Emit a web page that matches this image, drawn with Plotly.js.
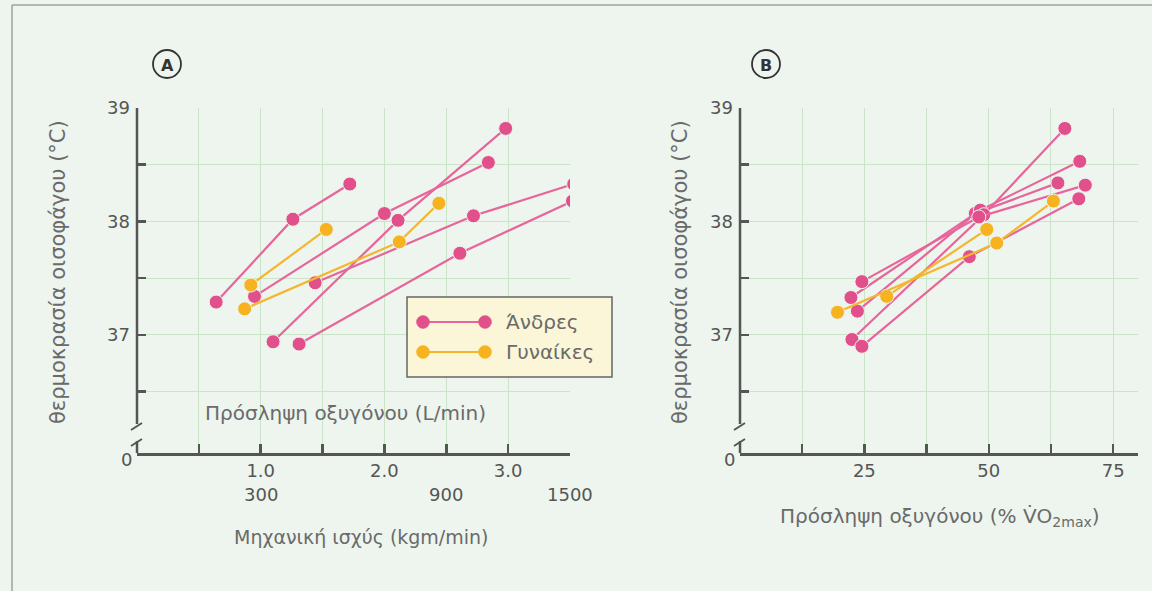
<!DOCTYPE html>
<html>
<head>
<meta charset="utf-8">
<script src="https://cdn.plot.ly/plotly-3.0.1.min.js"></script>
<style>
html,body{margin:0;padding:0;background:#edf5ee;}
#chart{width:1152px;height:591px;}
</style>
</head>
<body>
<div id="chart"></div>
<script>
// ---------- DATA ----------
// Panel A: oxygen uptake (L/min) vs oesophageal temperature (°C)
const menA_x = [[0.64,1.26,1.72],[0.95,2.00,2.84],[1.10,2.11,2.98],[1.44,2.72,3.53],[1.31,2.61,3.52]];
const menA_y = [[37.29,38.02,38.33],[37.34,38.07,38.52],[36.94,38.01,38.82],[37.46,38.05,38.33],[36.92,37.72,38.18]];
const womenA_x = [[0.92,1.53],[0.87,2.12,2.44]];
const womenA_y = [[37.44,37.93],[37.23,37.82,38.16]];
// Panel B: oxygen uptake (% VO2max) vs oesophageal temperature (°C)
const menB_x = [[23.6,47.3,63.9],[22.3,48.3,68.3],[22.5,49.0,65.3],[24.5,48.0,69.4],[24.5,46.1,68.1]];
const menB_y = [[37.21,38.07,38.34],[37.33,38.10,38.53],[36.96,38.06,38.82],[37.47,38.04,38.32],[36.90,37.69,38.20]];
const womenB_x = [[29.5,49.6],[19.6,51.6,63.0]];
const womenB_y = [[37.34,37.93],[37.20,37.81,38.18]];
// Tick labels
const xTickValsA = [0.5,1.0,1.5,2.0,2.5,3.0,3.5];
const xTickTextA = ['','1.0','','2.0','','3.0',''];
const powerLabelPos = [1.0,2.5,3.5];
const powerLabels = ['300','900','1500'];
const xTickValsB = [12.5,25,37.5,50,62.5,75];
const xTickTextB = ['','25','','50','','75'];
const yTickVals = [36.5,37,37.5,38,38.5,39];
const yTickText = ['','37','','38','','39'];
const legendNames = ['Άνδρες','Γυναίκες'];

// ---------- STYLE ----------
const W = 1152, H = 591;
const X = p => p / W;
const Y = p => 1 - p / H;
const FONT = 'DejaVu Sans, Noto Sans, sans-serif';
const TXT = '#6a6a6a';
const AX = '#555555';
const BG = '#edf5ee';
const GRID = '#c9e4c7';
const PINK = '#e2508c', PINKL = '#e8659b';
const YEL = '#f6b21f', YELL = '#f4b62c';

function series(xs, ys, col, lcol, xa, ya){
  return {
    type:'scatter', mode:'lines+markers', x:xs, y:ys, xaxis:xa, yaxis:ya,
    line:{color:lcol, width:2.2},
    marker:{size:14, color:col, line:{color:BG, width:1}},
    showlegend:false, hoverinfo:'skip'
  };
}
const traces = [];
menA_x.forEach((xs,i)=>traces.push(series(xs, menA_y[i], PINK, PINKL, 'x', 'y')));
womenA_x.forEach((xs,i)=>traces.push(series(xs, womenA_y[i], YEL, YELL, 'x', 'y')));
menB_x.forEach((xs,i)=>traces.push(series(xs, menB_y[i], PINK, PINKL, 'x2', 'y2')));
womenB_x.forEach((xs,i)=>traces.push(series(xs, womenB_y[i], YEL, YELL, 'x2', 'y2')));

const yDom = [Y(453), Y(108)];
const commonX = {
  ticks:'inside', ticklen:9, tickwidth:2.5, tickcolor:AX,
  showline:true, linecolor:AX, linewidth:2.5,
  showgrid:true, gridcolor:GRID, gridwidth:1, zeroline:false,
  tickfont:{family:FONT, size:18, color:AX}, fixedrange:true
};
const commonY = {
  range:[35.96,39], tickvals:yTickVals, ticktext:yTickText,
  ticks:'inside', ticklen:9, tickwidth:2.5, tickcolor:AX,
  showline:false, showgrid:true, gridcolor:GRID, gridwidth:1, zeroline:false,
  ticklabelstandoff:6,
  tickfont:{family:FONT, size:18, color:AX}, fixedrange:true, domain:yDom
};

const shapes = [];
const ann = [];
function line(x0,y0,x1,y1,col,w){ shapes.push({type:'line',xref:'paper',yref:'paper',x0:X(x0),y0:Y(y0),x1:X(x1),y1:Y(y1),line:{color:col,width:w}}); }
function circle(cx,cy,r,fill,lc,lw){ shapes.push({type:'circle',xref:'paper',yref:'paper',x0:X(cx-r),x1:X(cx+r),y0:Y(cy+r),y1:Y(cy-r),fillcolor:fill,line:{color:lc,width:lw}}); }
function text(t,x,y,size,opts){ ann.push(Object.assign({text:t,xref:'paper',yref:'paper',x:X(x),y:Y(y),showarrow:false,xanchor:'center',yanchor:'middle',font:{family:FONT,size:size,color:TXT}},opts||{})); }

// broken y-axes
[137,740].forEach(ax=>{
  line(ax,108,ax,424,AX,2.5);
  line(ax,441,ax,453,AX,2.5);
  line(ax-6,430,ax+5,423,AX,2);
  line(ax-6,446,ax+5,439,AX,2);
  text('0', ax-11, 459, 18, {font:{family:FONT,size:18,color:AX}});
});

// panel letters
circle(167,64,14,'rgba(0,0,0,0)','#333',1.8);
text('<b>A</b>',167,65,16,{font:{family:FONT,size:16,color:'#333'}});
circle(766,64,14,'rgba(0,0,0,0)','#333',1.8);
text('<b>B</b>',766,65,16,{font:{family:FONT,size:16,color:'#333'}});

// power labels (second row under A)
powerLabels.forEach((t,i)=>ann.push({text:t,xref:'x',yref:'paper',x:powerLabelPos[i],y:Y(494),showarrow:false,xanchor:'center',yanchor:'middle',font:{family:FONT,size:18,color:AX}}));

// axis titles
text('Πρόσληψη οξυγόνου (L/min)',345,413,20);
text('Μηχανική ισχύς (kgm/min)',361,537,19);
text('θερμοκρασία οισοφάγου (°C)',58,272,21,{textangle:-90});
text('θερμοκρασία οισοφάγου (°C)',680,272,21,{textangle:-90});
text('Πρόσληψη οξυγόνου (% V̇O<sub>2max</sub>)',940,517,20);

// legend box
shapes.push({type:'rect',xref:'paper',yref:'paper',x0:X(407),x1:X(612),y0:Y(377),y1:Y(297),fillcolor:'#fbf6d7',line:{color:'#666',width:1.5}});
[[322,PINK,PINKL],[352,YEL,YELL]].forEach((r,i)=>{
  line(423,r[0],485,r[0],r[2],2.2);
  circle(423,r[0],6.5,r[1],r[1],0.5);
  circle(485,r[0],6.5,r[1],r[1],0.5);
  text(legendNames[i],504,r[0],20,{xanchor:'left'});
});

// frame
line(12,5,1152,5,'#9aa59c',1.5);
line(12,5,12,591,'#9aa59c',1.5);

const layout = {
  width:W, height:H, margin:{l:0,r:0,t:0,b:0},
  paper_bgcolor:BG, plot_bgcolor:BG,
  showlegend:false,
  xaxis:Object.assign({}, commonX, {domain:[X(137),X(570)], range:[0,3.5], tickvals:xTickValsA, ticktext:xTickTextA, anchor:'y'}),
  yaxis:Object.assign({}, commonY, {anchor:'x'}),
  xaxis2:Object.assign({}, commonX, {domain:[X(740),X(1138)], range:[0,80], tickvals:xTickValsB, ticktext:xTickTextB, anchor:'y2'}),
  yaxis2:Object.assign({}, commonY, {anchor:'x2'}),
  shapes:shapes, annotations:ann
};
Plotly.newPlot('chart', traces, layout, {staticPlot:true, displayModeBar:false});
</script>
</body>
</html>
